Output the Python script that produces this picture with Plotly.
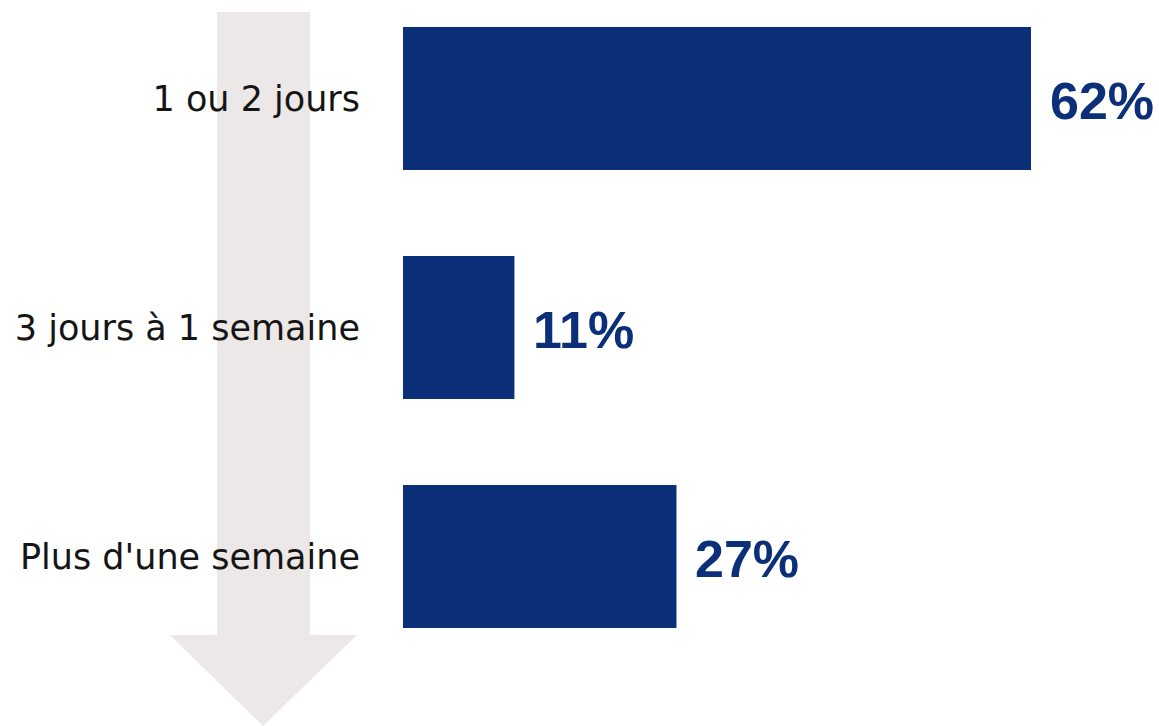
import plotly.graph_objects as go

categories = ["1 ou 2 jours", "3 jours à 1 semaine", "Plus d'une semaine"]
values = [62, 11, 27]
value_labels = ["62%", "11%", "27%"]

NAVY = "#0b3079"
ARROW = "#ece8e7"

fig = go.Figure()
fig.add_trace(go.Bar(
    x=values, y=categories, orientation="h",
    marker=dict(color=NAVY, line=dict(width=0)),
    width=0.625, hoverinfo="skip",
))

for c, v, t in zip(categories, values, value_labels):
    fig.add_annotation(
        x=v, y=c, xref="x", yref="y", text=t, showarrow=False,
        xanchor="left", yanchor="middle", xshift=17, yshift=-2,
        font=dict(family="Liberation Sans, Arial", size=52, color=NAVY, weight="bold"),
    )

# background down arrow (decoration, in pixel-like paper coords)
W, H = 1159, 726
L = 403
pw = W - L
def px(x):
    return (x - L) / pw
def py(y):
    return 1 - y / H
path = ("M {a},{b} L {c},{b} L {c},{d} L {e},{d} L {f},{g} L {h},{d} L {i},{d} Z").format(
    a=px(217), b=py(12), c=px(310), d=py(635), e=px(357), f=px(263), g=py(726),
    h=px(170), i=px(217))
fig.add_shape(type="path", path=path, xref="paper", yref="paper",
              fillcolor=ARROW, line=dict(width=0), layer="below")

fig.update_layout(
    width=W, height=H,
    margin=dict(l=L, r=0, t=0, b=0),
    paper_bgcolor="white", plot_bgcolor="rgba(0,0,0,0)",
    showlegend=False,
    xaxis=dict(range=[0, 62 * pw / 628], visible=False, fixedrange=True),
    yaxis=dict(
        range=[(726 - 98.5) / 229, -98.5 / 229],
        showgrid=False, zeroline=False, showline=False, ticks="",
        tickfont=dict(family="DejaVu Sans", size=35, color="#151515"),
        ticklabelstandoff=42, fixedrange=True,
    ),
)

fig.write_html("out.html", config={"displayModeBar": False},
               post_script="document.body.style.margin='0';document.body.style.overflow='hidden';")
